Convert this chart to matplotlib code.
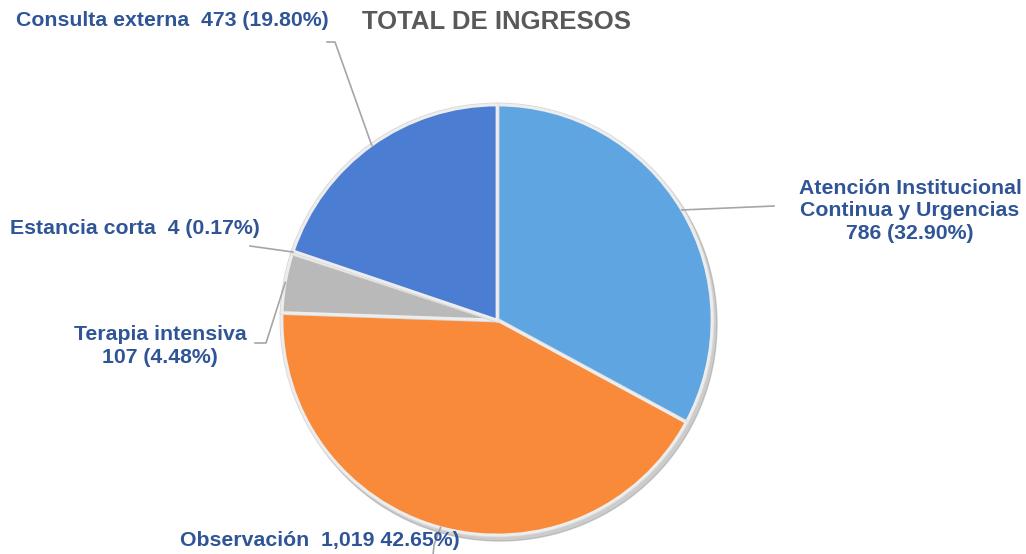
import numpy as np
import matplotlib.pyplot as plt
import matplotlib.patheffects as pe

plt.rcParams['font.family'] = ['Liberation Sans', 'DejaVu Sans']

# datos
categorias = ['Atención Institucional\nContinua y Urgencias', 'Observación',
              'Terapia intensiva', 'Estancia corta', 'Consulta externa']
ingresos = [786, 1019, 107, 4, 473]
porcentajes = [32.90, 42.65, 4.48, 0.17, 19.80]
colores = ['#5FA5E1', '#F88A3A', '#B9B9B9', '#FFC000', '#4B7DD2']

etiquetas = ['Atención Institucional\nContinua y Urgencias\n786 (32.90%)',
             'Observación  1,019 42.65%)',
             'Terapia intensiva\n107 (4.48%)',
             'Estancia corta  4 (0.17%)',
             'Consulta externa  473 (19.80%)']

W, H = 1026, 554
fig = plt.figure(figsize=(W / 100, H / 100), dpi=100)
ax = fig.add_axes([0, 0, 1, 1])

cx, cy, r = 497, H - 320, 215

# sombra
sombra = plt.Circle((cx + 3, cy - 4), r + 2, color='#9A9A9A', alpha=0.5, zorder=1)
ax.add_patch(sombra)

wedges, _ = ax.pie(ingresos, colors=colores, startangle=90, counterclock=False,
                   center=(cx, cy), radius=r, frame=True,
                   wedgeprops=dict(edgecolor='#EDEDED', linewidth=2.0))
for w in wedges:
    w.set_zorder(2)
    w.set_path_effects([pe.withStroke(linewidth=3.5, foreground='#DADADA'), pe.Normal()])
ax.set_xlim(0, W)
ax.set_ylim(0, H)
ax.axis('off')

ax.text(cx, H - 22, 'TOTAL DE INGRESOS', ha='center', va='center',
        fontsize=18.5, fontweight='bold', color='#595959')

azul = '#2F5597'
gris = '#A6A6A6'

# posiciones de etiquetas (pixeles imagen) y quiebre de la guia
pos_texto = [(910, 211), (320, 541), (160, 346), (135, 228), (172, 20)]
guias = [[(774, 206)], [(433, 556), (434, 545)], [(255, 343), (266, 343)],
         [(250, 246)], [(327, 42), (335, 42)]]

for i, w in enumerate(wedges):
    ang = np.deg2rad((w.theta1 + w.theta2) / 2)
    ex, ey = cx + r * np.cos(ang), cy + r * np.sin(ang)
    xt, yt = pos_texto[i]
    ax.text(xt, H - yt, etiquetas[i], ha='center', va='center',
            fontsize=15.3, fontweight='bold', color=azul, linespacing=1.25, zorder=5)
    pts = [(x, H - y) for x, y in guias[i]] + [(ex, ey)]
    xs, ys = zip(*pts)
    ax.plot(xs, ys, color=gris, lw=1.2, zorder=4)

fig.savefig('out.png', dpi=100)
